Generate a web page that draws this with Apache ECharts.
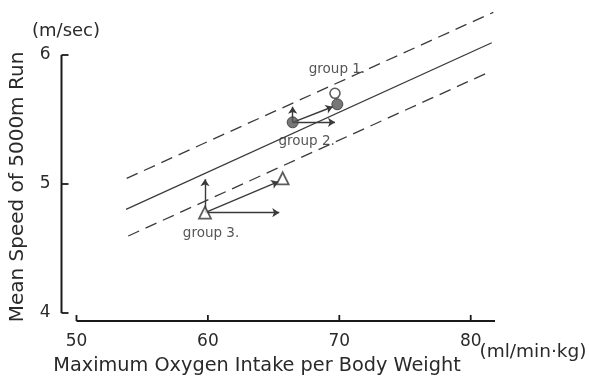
<!DOCTYPE html>
<html><head><meta charset="utf-8">
<script src="https://cdn.jsdelivr.net/npm/echarts@6/dist/echarts.min.js"></script>
<style>html,body{margin:0;padding:0;background:#fff}#c{width:589px;height:378px}</style>
</head><body><div id="c"></div>
<script>
// ---- data ----
const xTicks = [50, 60, 70, 80];
const yTicks = [4, 5, 6];
const solidLine = [[53.77, 4.804], [81.60, 6.095]];
const upperDashed = [[53.82, 5.044], [81.72, 6.331]];
const lowerDashed = [[53.94, 4.597], [81.47, 5.871]];
const group1Open = [[69.67, 5.703]];
const group1Filled = [[69.85, 5.618]];
const group2Filled = [[66.45, 5.478]];
const group3Start = [[59.78, 4.778]];
const group3End = [[65.69, 5.044]];
const group2Arrows = [
  [[66.45, 5.478], [66.45, 5.599]],
  [[66.45, 5.478], [69.67, 5.478]],
  [[66.45, 5.478], [69.50, 5.599]]
];
const group3Arrows = [
  [[59.78, 4.778], [59.78, 5.036]],
  [[59.78, 4.778], [65.43, 4.778]],
  [[59.78, 4.778], [65.36, 5.018]]
];
const xAxisEnd = 81.85;
const xMin = 48.86, xMax = 82;
const yMin = 3.938, yMax = 6;

const FONT = 'DejaVu Sans';
const INK = '#2a2a2a';
const LINE = '#3a3a3a';
const AXIS = '#1a1a1a';

function tickSeries(points, dx, dy) {
  return {
    type: 'custom', coordinateSystem: 'cartesian2d', clip: false, silent: true,
    data: points,
    renderItem: function (params, api) {
      const p = api.coord([api.value(0), api.value(1)]);
      return {type: 'line', shape: {x1: p[0], y1: p[1], x2: p[0] + dx, y2: p[1] + dy},
              style: {stroke: AXIS, lineWidth: 1.8}};
    }
  };
}

const chart = echarts.init(document.getElementById('c'), null, {renderer: 'canvas'});
chart.setOption({
  animation: false,
  backgroundColor: '#fff',
  grid: {left: 61.5, right: 92, top: 55, bottom: 57, containLabel: false},
  xAxis: {
    type: 'value', min: xMin, max: xMax,
    axisLine: {show: false},
    splitLine: {show: false},
    axisTick: {show: false},
    axisLabel: {customValues: xTicks, margin: 12, color: INK, fontFamily: FONT, fontSize: 17}
  },
  yAxis: {
    type: 'value', min: yMin, max: yMax,
    axisLine: {show: false},
    splitLine: {show: false},
    axisTick: {show: false},
    axisLabel: {customValues: yTicks, margin: 11, color: INK, fontFamily: FONT, fontSize: 17}
  },
  graphic: [
    {type: 'text', x: 66, y: 31, style: {text: '(m/sec)', font: '18px "DejaVu Sans"', fill: INK, align: 'center', verticalAlign: 'middle'}},
    {type: 'text', x: 533, y: 352, style: {text: '(ml/min·kg)', font: '18.5px "DejaVu Sans"', fill: INK, align: 'center', verticalAlign: 'middle'}},
    {type: 'text', x: 257, y: 366, style: {text: 'Maximum Oxygen Intake per Body Weight', font: '19.3px "DejaVu Sans"', fill: INK, align: 'center', verticalAlign: 'middle'}},
    {type: 'text', x: 18, y: 187, rotation: Math.PI / 2, style: {text: 'Mean Speed of 5000m Run', font: '20px "DejaVu Sans"', fill: INK, align: 'center', verticalAlign: 'middle'}}
  ],
  series: [
    {type: 'line', data: [[xTicks[0], yMin], [xAxisEnd, yMin]], symbol: 'none', clip: false, silent: true,
     lineStyle: {color: AXIS, width: 1.8}},
    {type: 'line', data: [[xMin, yTicks[0]], [xMin, yTicks[2]]], symbol: 'none', clip: false, silent: true,
     lineStyle: {color: AXIS, width: 2}},
    tickSeries(xTicks.map(v => [v, yMin]), 0, -6),
    tickSeries(yTicks.map(v => [xMin, v]), 7, 0),
    {type: 'line', data: solidLine, symbol: 'none', clip: false, lineStyle: {color: LINE, width: 1.3}},
    {type: 'line', data: upperDashed, symbol: 'none', clip: false, lineStyle: {color: LINE, width: 1.3, type: [12, 7]}},
    {type: 'line', data: lowerDashed, symbol: 'none', clip: false, lineStyle: {color: LINE, width: 1.3, type: [12, 7]}},
    {type: 'lines', coordinateSystem: 'cartesian2d', symbol: ['none', 'arrow'], symbolSize: 7,
     lineStyle: {color: LINE, width: 1.4, opacity: 1},
     data: group2Arrows.concat(group3Arrows).map(c => ({coords: c}))},
    {type: 'scatter', data: group1Open, symbol: 'circle', symbolSize: 10,
     itemStyle: {color: '#fff', borderColor: '#333', borderWidth: 1.6},
     label: {show: true, formatter: 'group 1.', position: 'top', offset: [2, -6], color: INK, fontFamily: FONT, fontSize: 13.5}},
    {type: 'scatter', data: group1Filled, symbol: 'circle', symbolSize: 11,
     itemStyle: {color: '#555', borderColor: '#333', borderWidth: 1}},
    {type: 'scatter', data: group2Filled, symbol: 'circle', symbolSize: 11,
     itemStyle: {color: '#555', borderColor: '#333', borderWidth: 1},
     label: {show: true, formatter: 'group 2.', position: 'bottom', offset: [14, 1], color: INK, fontFamily: FONT, fontSize: 13.5}},
    {type: 'scatter', data: group3Start, symbol: 'triangle', symbolSize: 12,
     itemStyle: {color: '#fff', borderColor: '#333', borderWidth: 1.8},
     label: {show: true, formatter: 'group 3.', position: 'bottom', offset: [6, 2], color: INK, fontFamily: FONT, fontSize: 13.5}},
    {type: 'scatter', data: group3End, symbol: 'triangle', symbolSize: 12,
     itemStyle: {color: '#fff', borderColor: '#333', borderWidth: 1.8}}
  ]
});
</script></body></html>
